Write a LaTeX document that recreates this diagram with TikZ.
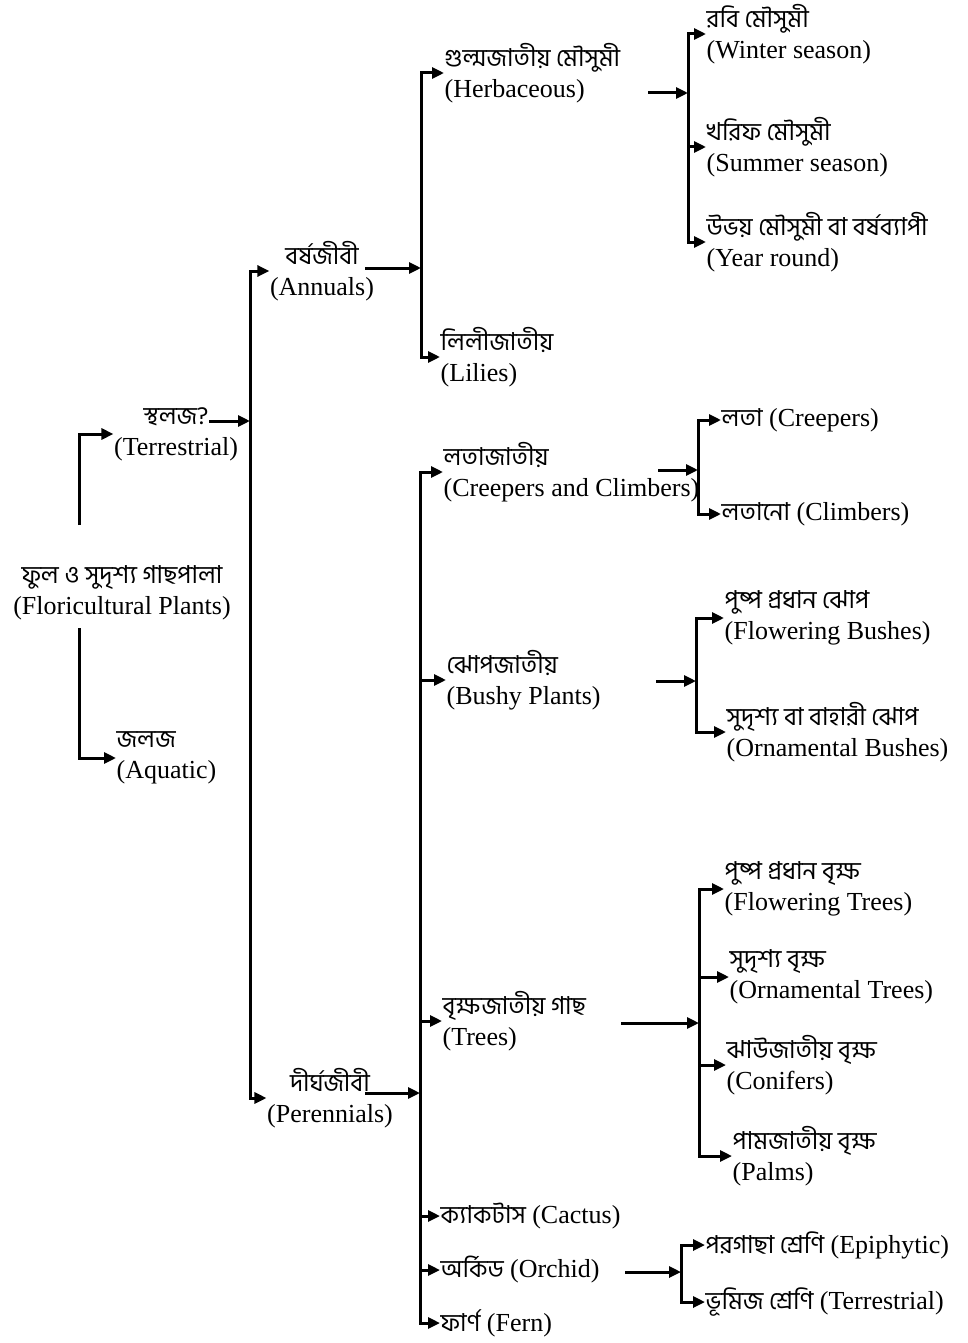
\documentclass[tikz,border=0pt]{standalone}
\usepackage{fontspec}
\setmainfont{Liberation Serif}
\newfontfamily\bnfont[Script=Bengali,Scale=0.95]{Hind Siliguri}
\newcommand{\bn}[1]{{\bnfont #1}}
\usetikzlibrary{arrows.meta}
\begin{document}
\begin{tikzpicture}[x=1pt,y=-1pt,
    arr/.style={-{Triangle[length=12pt,width=11pt]}, line width=3pt},
    lbl/.style={anchor=west, align=left, inner sep=0.5pt, font=\fontsize{26}{31}\selectfont},
    clbl/.style={lbl, anchor=center, align=center}]
    \useasboundingbox (0,0) rectangle (967,1343);

    % Root
    \node[clbl] (root) at (122,593) {\bn{ফুল ও সুদৃশ্য গাছপালা}\\(Floricultural Plants)};
    \node[clbl] (terr) at (176,434) {\bn{স্থলজ?}\\(Terrestrial)};
    \node[lbl] (aqua) at (116,758) {\bn{জলজ}\\(Aquatic)};
    \coordinate (rt) at (79,525);
    \coordinate (rb) at (79,628);
    \draw[arr] (rt) |- (terr.west);
    \draw[arr] (rb) |- (aqua.west);

    % Terrestrial -> Annuals / Perennials
    \node[clbl] (ann) at (322,271) {\bn{বর্ষজীবী}\\(Annuals)};
    \node[clbl] (per) at (330,1098) {\bn{দীর্ঘজীবী\hspace{8pt}}\\(Perennials)};
    \coordinate (terr-out) at (209,421);
    \coordinate (b-terr) at (250,421);
    \draw[arr] (terr-out) -- (b-terr);
    \draw[arr] (b-terr) |- (ann.west);
    \draw[arr] (b-terr) |- (per.west);

    % Annuals
    \node[lbl] (herb) at (444,73) {\bn{গুল্মজাতীয় মৌসুমী}\\(Herbaceous)};
    \node[lbl] (lil) at (440,357) {\bn{লিলীজাতীয়}\\(Lilies)};
    \coordinate (ann-out) at (365,268);
    \coordinate (b-ann) at (421,268);
    \draw[arr] (ann-out) -- (b-ann);
    \draw[arr] (b-ann) |- (herb.west);
    \draw[arr] (b-ann) |- (lil.west);

    % Herbaceous seasons
    \node[lbl] (wint) at (706,34) {\bn{রবি মৌসুমী}\\(Winter season)};
    \node[lbl] (summ) at (706,147) {\bn{খরিফ মৌসুমী}\\(Summer season)};
    \node[lbl] (year) at (706,242) {\bn{উভয় মৌসুমী বা বর্ষব্যাপী}\\(Year round)};
    \coordinate (herb-out) at (648,93);
    \coordinate (b-herb) at (688,93);
    \draw[arr] (herb-out) -- (b-herb);
    \draw[arr] (b-herb) |- (wint.west);
    \draw[arr] (b-herb) |- (year.west);
    \draw[arr] (b-herb |- summ.west) -- (summ.west);

    % Perennials
    \node[lbl] (cnc) at (443,472) {\bn{লতাজাতীয়}\\(Creepers and Climbers)};
    \node[lbl] (bush) at (446,680) {\bn{ঝোপজাতীয়}\\(Bushy Plants)};
    \node[lbl] (tree) at (442,1021) {\bn{বৃক্ষজাতীয় গাছ}\\(Trees)};
    \node[lbl] (cact) at (440,1216) {\bn{ক্যাকটাস} (Cactus)};
    \node[lbl] (orch) at (440,1270) {\bn{অর্কিড} (Orchid)};
    \node[lbl] (fern) at (440,1323) {\bn{ফার্ণ} (Fern)};
    \coordinate (per-out) at (365,1093);
    \coordinate (b-per) at (420,1093);
    \draw[arr] (per-out) -- (b-per);
    \draw[arr] (b-per) |- (cnc.west);
    \draw[arr] (b-per) |- (fern.west);
    \foreach \n in {bush,tree,cact,orch}
        \draw[arr] (b-per |- \n.west) -- (\n.west);

    % Creepers and Climbers
    \node[lbl] (crp) at (721,420) {\bn{লতা} (Creepers)};
    \node[lbl] (clm) at (721,514) {\bn{লতানো} (Climbers)};
    \coordinate (cnc-out) at (658,470);
    \coordinate (b-cnc) at (698,470);
    \draw[arr] (cnc-out) -- (b-cnc);
    \draw[arr] (b-cnc) |- (crp.west);
    \draw[arr] (b-cnc) |- (clm.west);

    % Bushy plants
    \node[lbl] (flb) at (724,618) {\bn{পুষ্প প্রধান ঝোপ}\\(Flowering Bushes)};
    \node[lbl] (orb) at (726,732) {\bn{সুদৃশ্য বা বাহারী ঝোপ}\\(Ornamental Bushes)};
    \coordinate (bush-out) at (656,681);
    \coordinate (b-bush) at (696,681);
    \draw[arr] (bush-out) -- (b-bush);
    \draw[arr] (b-bush) |- (flb.west);
    \draw[arr] (b-bush) |- (orb.west);

    % Trees
    \node[lbl] (flt) at (724,889) {\bn{পুষ্প প্রধান বৃক্ষ}\\(Flowering Trees)};
    \node[lbl] (ort) at (729,977) {\bn{সুদৃশ্য বৃক্ষ}\\(Ornamental Trees)};
    \node[lbl] (con) at (726,1065) {\bn{ঝাউজাতীয় বৃক্ষ}\\(Conifers)};
    \node[lbl] (plm) at (732,1156) {\bn{পামজাতীয় বৃক্ষ}\\(Palms)};
    \coordinate (tree-out) at (621,1023);
    \coordinate (b-tree) at (699,1023);
    \draw[arr] (tree-out) -- (b-tree);
    \draw[arr] (b-tree) |- (flt.west);
    \draw[arr] (b-tree) |- (plm.west);
    \draw[arr] (b-tree |- ort.west) -- (ort.west);
    \draw[arr] (b-tree |- con.west) -- (con.west);

    % Orchid
    \node[lbl] (epi) at (705,1245) {\bn{পরগাছা শ্রেণি} (Epiphytic)};
    \node[lbl] (ter2) at (705,1302) {\bn{ভূমিজ শ্রেণি} (Terrestrial)};
    \coordinate (orch-out) at (625,1272);
    \coordinate (b-orch) at (681,1272);
    \draw[arr] (orch-out) -- (b-orch);
    \draw[arr] (b-orch) |- (epi.west);
    \draw[arr] (b-orch) |- (ter2.west);
\end{tikzpicture}
\end{document}
